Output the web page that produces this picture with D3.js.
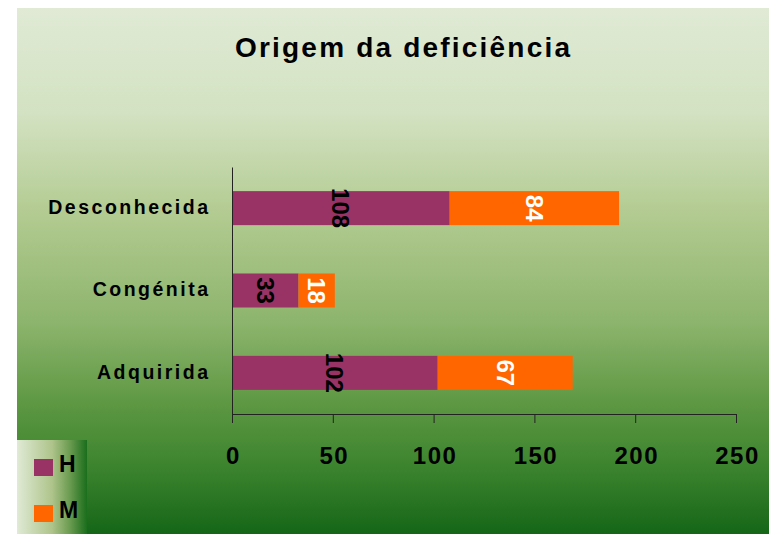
<!DOCTYPE html>
<html>
<head>
<meta charset="utf-8">
<script src="https://cdn.jsdelivr.net/npm/d3@7"></script>
<style>
    body { margin: 0; background: #fff; }
    svg text { font-family: "Liberation Sans", Arial, sans-serif; font-weight: bold; }
</style>
</head>
<body>
<div id="chart"></div>
<script>
// chart data
var categories = ["Desconhecida", "Congénita", "Adquirida"];
var hValues = [108, 33, 102];
var mValues = [84, 18, 67];
var xTicks = [0, 50, 100, 150, 200, 250];
var seriesNames = ["H", "M"];
var seriesColors = ["#993366", "#ff6600"];
var labelColors = ["#000", "#fff"];

var width = 769, height = 534;

var svg = d3.select("#chart")
    .append("svg")
    .attr("width", width)
    .attr("height", height);

var defs = svg.append("defs");

// panel background, vertical green gradient
var bg = defs.append("linearGradient")
    .attr("id", "bg").attr("x1", 0).attr("y1", 0).attr("x2", 0).attr("y2", 1);
[[0, "#e0ead5"], [0.2, "#d3e2c2"], [0.4, "#b1ca8f"], [0.6, "#8cb46c"],
 [0.75, "#5e9843"], [0.88, "#3a822d"], [1, "#156618"]].forEach(function(s) {
    bg.append("stop").attr("offset", s[0]).attr("stop-color", s[1]);
});

// legend background, horizontal gradient
var lg = defs.append("linearGradient")
    .attr("id", "lg").attr("x1", 0).attr("y1", 0).attr("x2", 1).attr("y2", 0);
[[0, "#e0ead5"], [0.5, "#aec48b"], [0.75, "#6c9c52"], [1, "#1a6e1c"]].forEach(function(s) {
    lg.append("stop").attr("offset", s[0]).attr("stop-color", s[1]);
});

svg.append("rect")
    .attr("x", 17).attr("y", 8)
    .attr("width", width - 17).attr("height", height - 8)
    .attr("fill", "url(#bg)");

// title
svg.append("text")
    .attr("x", 235).attr("y", 57)
    .attr("text-anchor", "start")
    .style("font-size", "28px")
    .style("letter-spacing", "2.2px")
    .text("Origem da deficiência");

// scales
var x = d3.scaleLinear().domain([0, 250]).range([232, 736]);
var y = d3.scaleBand().domain(categories).range([167, 414])
    .paddingInner(0.587).paddingOuter(0.293);

// stack the two series
var rows = categories.map(function(c, i) {
    return { cat: c, H: hValues[i], M: mValues[i] };
});
var stacked = d3.stack().keys(seriesNames)(rows);

var layers = svg.selectAll("g.layer")
    .data(stacked)
    .enter()
    .append("g")
    .attr("class", "layer")
    .attr("fill", function(d, i) { return seriesColors[i]; });

layers.selectAll("rect")
    .data(function(d) { return d; })
    .enter()
    .append("rect")
    .attr("x", function(d) { return x(d[0]); })
    .attr("y", function(d) { return y(d.data.cat); })
    .attr("width", function(d) { return x(d[1]) - x(d[0]); })
    .attr("height", y.bandwidth());

// value labels, rotated
layers.each(function(layer, li) {
    d3.select(this).selectAll("text")
        .data(layer)
        .enter()
        .append("text")
        .attr("transform", function(d) {
            var cx = (x(d[0]) + x(d[1])) / 2;
            var cy = y(d.data.cat) + y.bandwidth() / 2;
            return "translate(" + cx + "," + cy + ") rotate(90)";
        })
        .attr("text-anchor", "middle")
        .attr("dy", "0.36em")
        .attr("fill", labelColors[li])
        .style("font-size", "24px")
        .text(function(d) { return d[1] - d[0]; });
});

// x axis
var xAxis = svg.append("g")
    .attr("transform", "translate(0,414)")
    .call(d3.axisBottom(x).tickValues(xTicks).tickSize(9).tickSizeOuter(0));
xAxis.select(".domain").attr("stroke", "#222");
xAxis.selectAll(".tick line").attr("stroke", "#222");
xAxis.selectAll(".tick text")
    .attr("y", 50).attr("dy", 0).attr("dx", "1px")
    .attr("fill", "#000")
    .style("font-size", "24px")
    .style("letter-spacing", "1.5px");

// y axis
var yAxis = svg.append("g")
    .attr("transform", "translate(232,0)")
    .call(d3.axisLeft(y).tickSize(0).tickSizeOuter(0));
yAxis.select(".domain").attr("stroke", "#222");
yAxis.selectAll(".tick text")
    .attr("x", -21.5)
    .attr("dy", "0.3em")
    .attr("fill", "#000")
    .style("font-size", "19.5px")
    .style("letter-spacing", "2.5px");

// legend
var legend = svg.append("g");
legend.append("rect")
    .attr("x", 17).attr("y", 440)
    .attr("width", 70).attr("height", height - 440)
    .attr("fill", "url(#lg)");

var items = legend.selectAll("g.item")
    .data(seriesNames)
    .enter()
    .append("g")
    .attr("class", "item")
    .attr("transform", function(d, i) { return "translate(34," + (459 + i * 46) + ")"; });
items.append("rect")
    .attr("width", 19).attr("height", 17)
    .attr("fill", function(d, i) { return seriesColors[i]; });
items.append("text")
    .attr("x", 25).attr("y", 13)
    .style("font-size", "23px")
    .text(function(d) { return d; });
</script>
</body>
</html>
